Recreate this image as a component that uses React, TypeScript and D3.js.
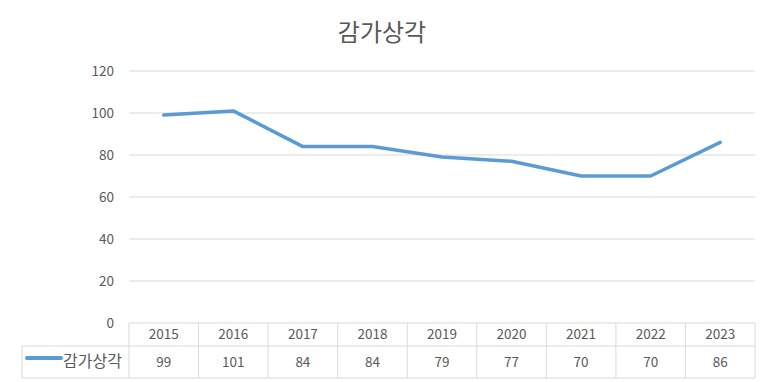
import React from "react";
import * as d3 from "d3";

const years = ["2015", "2016", "2017", "2018", "2019", "2020", "2021", "2022", "2023"];
const values = [99, 101, 84, 84, 79, 77, 70, 70, 86];
const yTicks = [0, 20, 40, 60, 80, 100, 120];
const seriesName = "감가상각";
const title = "감가상각";

const W = 764;
const H = 382;
const left = 129;
const right = 755;
const top = 71;
const bottom = 323;
const tableLeft = 22;
const row1Bottom = 346;
const row2Bottom = 378;
const textColor = "#595959";
const gridColor = "#D9D9D9";
const lineColor = "#5B9BD5";
const font = "'Noto Sans CJK KR', 'Malgun Gothic', sans-serif";

export default function App() {
  const x = d3.scaleBand<string>().domain(years).range([left, right]);
  const y = d3.scaleLinear().domain([0, 120]).range([bottom, top]);
  const line = d3
    .line<number>()
    .x((_, i) => (x(years[i]) as number) + x.bandwidth() / 2)
    .y((d) => y(d));

  return (
    <svg
      width={W}
      height={H}
      style={{ position: "absolute", left: 0, top: 0, background: "#fff" }}
      fontFamily={font}
    >
      <rect x={0} y={0} width={W} height={H} fill="#fff" />
      <text x={382} y={41} textAnchor="middle" fontSize={24} fill={textColor}>
        {title}
      </text>
      {yTicks.map((t) => (
        <g key={t}>
          {t > 0 && (
            <line x1={left} x2={right} y1={y(t)} y2={y(t)} stroke={gridColor} strokeWidth={1} />
          )}
          <text x={114} y={y(t)} dy="0.35em" textAnchor="end" fontSize={13.5} fill={textColor}>
            {t}
          </text>
        </g>
      ))}
      {/* table */}
      <g stroke={gridColor} strokeWidth={1} fill="none">
        <line x1={left} x2={right} y1={bottom} y2={bottom} />
        <line x1={tableLeft} x2={right} y1={row1Bottom} y2={row1Bottom} />
        <line x1={tableLeft} x2={right} y1={row2Bottom} y2={row2Bottom} />
        <line x1={tableLeft} x2={tableLeft} y1={row1Bottom} y2={row2Bottom} />
        {years.map((yr) => (
          <line key={yr} x1={x(yr)} x2={x(yr)} y1={bottom} y2={row2Bottom} />
        ))}
        <line x1={right} x2={right} y1={bottom} y2={row2Bottom} />
      </g>
      {years.map((yr, i) => {
        const cx = (x(yr) as number) + x.bandwidth() / 2;
        return (
          <g key={yr}>
            <text x={cx} y={334.5} dy="0.35em" textAnchor="middle" fontSize={13.5} fill={textColor}>
              {yr}
            </text>
            <text x={cx} y={362} dy="0.35em" textAnchor="middle" fontSize={13.5} fill={textColor}>
              {values[i]}
            </text>
          </g>
        );
      })}
      <line x1={27} x2={61} y1={358} y2={358} stroke={lineColor} strokeWidth={4} strokeLinecap="round" />
      <text x={63} y={361} dy="0.35em" fontSize={16} fill={textColor}>
        {seriesName}
      </text>
      <path
        d={line(values) as string}
        fill="none"
        stroke={lineColor}
        strokeWidth={3.5}
        strokeLinejoin="round"
        strokeLinecap="round"
      />
    </svg>
  );
}
